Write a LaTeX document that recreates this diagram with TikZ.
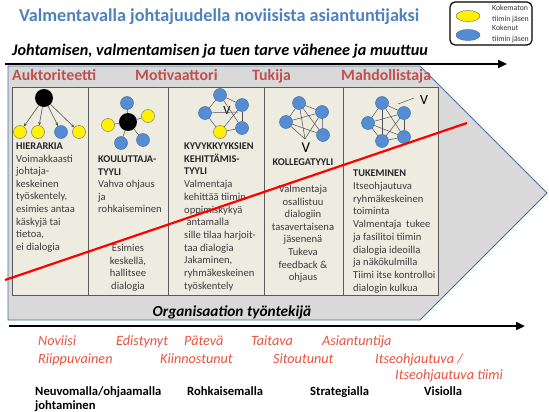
\documentclass[tikz,border=0pt]{standalone}
\usepackage{fontspec}
\setmainfont{Carlito}
\usetikzlibrary{arrows.meta,shapes.geometric}
\definecolor{titleblue}{RGB}{79,129,189}
\definecolor{shapegray}{RGB}{217,217,217}
\definecolor{shapeedge}{RGB}{70,110,165}
\definecolor{colfill}{RGB}{238,236,225}
\definecolor{coledge}{RGB}{90,90,90}
\definecolor{headred}{RGB}{192,80,77}
\definecolor{lowred}{RGB}{230,84,64}
\definecolor{nodeblue}{RGB}{84,141,212}
\definecolor{nodeblueedge}{RGB}{60,100,150}
\definecolor{bodygray}{RGB}{60,60,60}
\definecolor{meshgray}{RGB}{80,80,80}
\tikzset{
  shapeline/.style={draw=shapeedge, line width=0.9pt, fill=shapegray},
  colbox/.style={draw=coledge, line width=0.8pt, fill=colfill},
  bigarrow/.style={line width=2.4pt, -{Triangle[length=9pt,width=8pt]}},
  redline/.style={draw=red, line width=2.2pt},
  bluenode/.style={circle, fill=nodeblue, draw=nodeblueedge, line width=0.4pt, minimum size=13pt, inner sep=0pt},
  yellownode/.style={circle, fill=yellow, draw=black!60, line width=0.4pt, minimum size=13pt, inner sep=0pt},
  blacknode/.style={circle, fill=black, minimum size=18pt, inner sep=0pt},
  meshline/.style={draw=meshgray, line width=0.5pt},
  hierarrow/.style={draw=meshgray, line width=0.6pt, -{Stealth[length=3.5pt,width=3pt]}},
  bodytext/.style={inner sep=0pt, text=bodygray, font=\fontsize{10.6}{12}\selectfont},
  headtext/.style={inner sep=0pt, text=black!85, font=\fontsize{10.3}{11}\selectfont\bfseries},
  rolehead/.style={inner sep=0pt, text=headred, font=\fontsize{15.8}{17}\selectfont\bfseries},
  lowlabel/.style={inner sep=0pt, text=lowred, font=\fontsize{14.2}{16}\selectfont\itshape, anchor=base west},
  blacklabel/.style={inner sep=0pt, text=black, font=\fontsize{12.6}{14}\selectfont\bfseries, anchor=base west},
  bigV/.style={inner sep=0pt, text=black, font=\fontsize{15}{15}\selectfont},
  legendtext/.style={inner sep=0pt, text=black!80, font=\fontsize{7.8}{8}\selectfont, anchor=base west}
}
\begin{document}
\begin{tikzpicture}[x=1pt,y=-1pt]
\useasboundingbox (0,0) rectangle (549,412);
% title
\node[inner sep=0pt, anchor=base west, text=titleblue, font=\fontsize{18.2}{20}\selectfont\bfseries] (title) at (19,22) {Valmentavalla johtajuudella noviisista asiantuntijaksi};
% legend
\draw[black, line width=1.2pt, fill=white, rounded corners=5pt] (450,2) rectangle (532,45);
\node[ellipse, fill=yellow, draw=black!60, line width=0.4pt, minimum width=24pt, minimum height=11pt, inner sep=0pt] (legy) at (468,16) {};
\node[ellipse, fill=nodeblue, draw=nodeblueedge, line width=0.4pt, minimum width=24pt, minimum height=11pt, inner sep=0pt] (legb) at (468,35) {};
\node[legendtext] (lt1) at (492,10.5) {Kokematon};
\node[legendtext] (lt2) at (492,21.5) {tiimin jäsen};
\node[legendtext] (lt3) at (492,30.5) {Kokenut};
\node[legendtext] (lt4) at (492,41.5) {tiimin jäsen};
% subtitle
\node[inner sep=0pt, anchor=base west, font=\fontsize{16.2}{18}\selectfont\bfseries\itshape] (sub) at (12,56) {Johtamisen, valmentamisen ja tuen tarve vähenee ja muuttuu};
% gray arrow shape
\draw[shapeline] (8,66) -- (420,66) -- (547,193) -- (420,320) -- (8,320) -- cycle;
% top arrow
\coordinate (ta1) at (5,64);
\coordinate (ta2) at (507,64);
\draw[bigarrow] (ta1) -- (ta2);
% role headings
\node[rolehead, anchor=base west] (r1) at (12,80.5) {Auktoriteetti};
\node[rolehead, anchor=base west] (r2) at (135,80.5) {Motivaattori};
\node[rolehead, anchor=base west] (r3) at (252,80.5) {Tukija};
\node[rolehead, anchor=base west] (r4) at (341,80.5) {Mahdollistaja};
% columns
\draw[colbox] (12,87) rectangle (88,295);
\draw[colbox] (88,87) rectangle (168,295);
\draw[colbox] (168,87) rectangle (264,295);
\draw[colbox] (264,87) rectangle (343,295);
\draw[colbox] (343,87) rectangle (438,295);
% column 1 diagram
\node[blacknode] (h0) at (44,98) {};
\node[yellownode] (h1) at (20,132) {};
\node[yellownode] (h2) at (38,132) {};
\node[bluenode] (h3) at (61,132) {};
\node[yellownode] (h4) at (79,132) {};
\foreach \k in {1,2,3,4} \draw[hierarrow] (h0) -- (h\k);
% column 1 text
\node[headtext, anchor=base west] (c1h) at (16,149.5) {HIERARKIA};
\foreach \t [count=\i] in {Voimakkaasti,johtaja-,keskeinen,{työskentely,},esimies antaa,käskyjä tai,{tietoa,},ei dialogia}
  \node[bodytext, anchor=base west] (c1t\i) at (16,149.5+12.6*\i) {\t};
% column 2 diagram
\node[blacknode] (k0) at (128,122) {};
\node[bluenode] (k1) at (127,103) {};
\node[yellownode] (k2) at (148,116) {};
\node[yellownode] (k3) at (108,125) {};
\node[bluenode] (k4) at (121,143) {};
\node[bluenode] (k5) at (143,140) {};
\foreach \k in {1,...,5} \draw[meshline] (k0) -- (k\k);
% column 2 text
\node[headtext, anchor=base west] (c2h1) at (98,162.5) {KOULUTTAJA-};
\node[headtext, anchor=base west] (c2h2) at (98,175.1) {TYYLI};
\foreach \t [count=\i] in {Vahva ohjaus,ja,rohkaiseminen}
  \node[bodytext, anchor=base west] (c2t\i) at (98,175.1+12.6*\i) {\t};
\foreach \t [count=\i from 0] in {Esimies,{keskellä,},hallitsee,dialogia}
  \node[bodytext, anchor=base] (c2b\i) at (128,251.5+12.6*\i) {\t};
% column 3 diagram
\node[bluenode] (m1) at (220,95) {};
\node[bluenode] (m2) at (242,105) {};
\node[bluenode] (m3) at (205,113) {};
\node[bluenode] (m4) at (242,128) {};
\node[yellownode] (m5) at (220,132) {};
\node[inner sep=0pt, font=\fontsize{12.5}{12}\selectfont] (mv) at (227,110) {V};
\foreach \a/\b in {m1/m2,m2/m4,m4/m5,m5/m3,m3/m1,m5/m2,m1/m4}
  \draw[meshline] (\a) -- (\b);
\coordinate (m3e) at (238,112);
\draw[meshline] (m3) -- (m3e);
% column 3 text
\node[headtext, anchor=base west] (c3h1) at (184,149.5) {KYVYKKYYKSIEN};
\node[headtext, anchor=base west] (c3h2) at (184,162.2) {KEHITTÄMIS-};
\node[headtext, anchor=base west] (c3h3) at (184,174.9) {TYYLI};
\foreach \t [count=\i] in {Valmentaja,kehittää tiimin,oppimiskykyä,\ antamalla,sille tilaa harjoit-,taa dialogia,{Jakaminen,},ryhmäkeskeinen,työskentely}
  \node[bodytext, anchor=base west] (c3t\i) at (184,174.9+12.7*\i) {\t};
% column 4 diagram
\node[bluenode] (p1) at (299,103) {};
\node[bluenode] (p2) at (322,112) {};
\node[bluenode] (p3) at (286,122) {};
\node[bluenode] (p4) at (323,135) {};
\node[bigV] (pv) at (306,148) {V};
\coordinate (pvt) at (305,139);
\foreach \a/\b in {p1/p2,p1/p3,p3/p4,p2/p4,p1/p4,p2/p3,p3/pvt,p1/pvt,p2/pvt}
  \draw[meshline] (\a) -- (\b);
% column 4 text
\node[headtext, anchor=base] (c4h) at (303,165.5) {KOLLEGATYYLI};
\foreach \t [count=\i from 0] in {Valmentaja,osallistuu,dialogiin,tasavertaisena,jäsenenä,Tukeva,feedback \&,ohjaus}
  \node[bodytext, anchor=base] (c4t\i) at (303,192.5+12.6*\i) {\t};
% column 5 diagram
\node[bluenode] (f1) at (382,103) {};
\node[bluenode] (f2) at (404,113) {};
\node[bluenode] (f3) at (368,123) {};
\node[bluenode] (f4) at (382,141) {};
\node[bluenode] (f5) at (404,137) {};
\foreach \a/\b in {f1/f2,f1/f3,f1/f4,f1/f5,f2/f3,f2/f4,f2/f5,f3/f4,f3/f5,f4/f5}
  \draw[meshline] (\a) -- (\b);
\node[inner sep=0pt, font=\fontsize{14}{14}\selectfont] (fv) at (424,100) {V};
\coordinate (fl1) at (398,104);
\coordinate (fl2) at (414,98);
\draw[meshline] (fl1) -- (fl2);
% column 5 text
\node[headtext, anchor=base west] (c5h) at (353,176.5) {TUKEMINEN};
\foreach \t [count=\i] in {Itseohjautuva,ryhmäkeskeinen,toiminta,Valmentaja\ \ tukee,ja fasilitoi tiimin,dialogia ideoilla,ja näkökulmilla,Tiimi itse kontrolloi,dialogin kulkua}
  \node[bodytext, anchor=base west] (c5t\i) at (353,176.5+12.75*\i) {\t};
% red line
\coordinate (rl1) at (5,280);
\coordinate (rl2) at (467,123);
\draw[redline] (rl1) -- (rl2);
% bottom band label
\node[inner sep=0pt, anchor=base, font=\fontsize{15.3}{17}\selectfont\bfseries\itshape] (org) at (232,316.5) {Organisaation työntekijä};
% bottom arrow
\coordinate (ba1) at (9,326);
\coordinate (ba2) at (525,326);
\draw[bigarrow] (ba1) -- (ba2);
% lower labels
\node[lowlabel] (l1) at (38,345) {Noviisi};
\node[lowlabel] (l2) at (38,363) {Riippuvainen};
\node[lowlabel] (l3) at (116,345) {Edistynyt};
\node[lowlabel] (l4) at (184,345) {Pätevä};
\node[lowlabel] (l5) at (160,363) {Kiinnostunut};
\node[lowlabel] (l6) at (251,345) {Taitava};
\node[lowlabel] (l7) at (273,363) {Sitoutunut};
\node[lowlabel] (l8) at (322,345) {Asiantuntija};
\node[lowlabel] (l9) at (375,363) {Itseohjautuva /};
\node[lowlabel] (l10) at (395,379.5) {Itseohjautuva tiimi};
\node[blacklabel] (b1) at (35,395.5) {Neuvomalla/ohjaamalla};
\node[blacklabel] (b2) at (35,409.5) {johtaminen};
\node[blacklabel] (b3) at (187,395.5) {Rohkaisemalla};
\node[blacklabel] (b4) at (310,395.5) {Strategialla};
\node[blacklabel] (b5) at (424,395.5) {Visiolla};
\end{tikzpicture}
\end{document}
